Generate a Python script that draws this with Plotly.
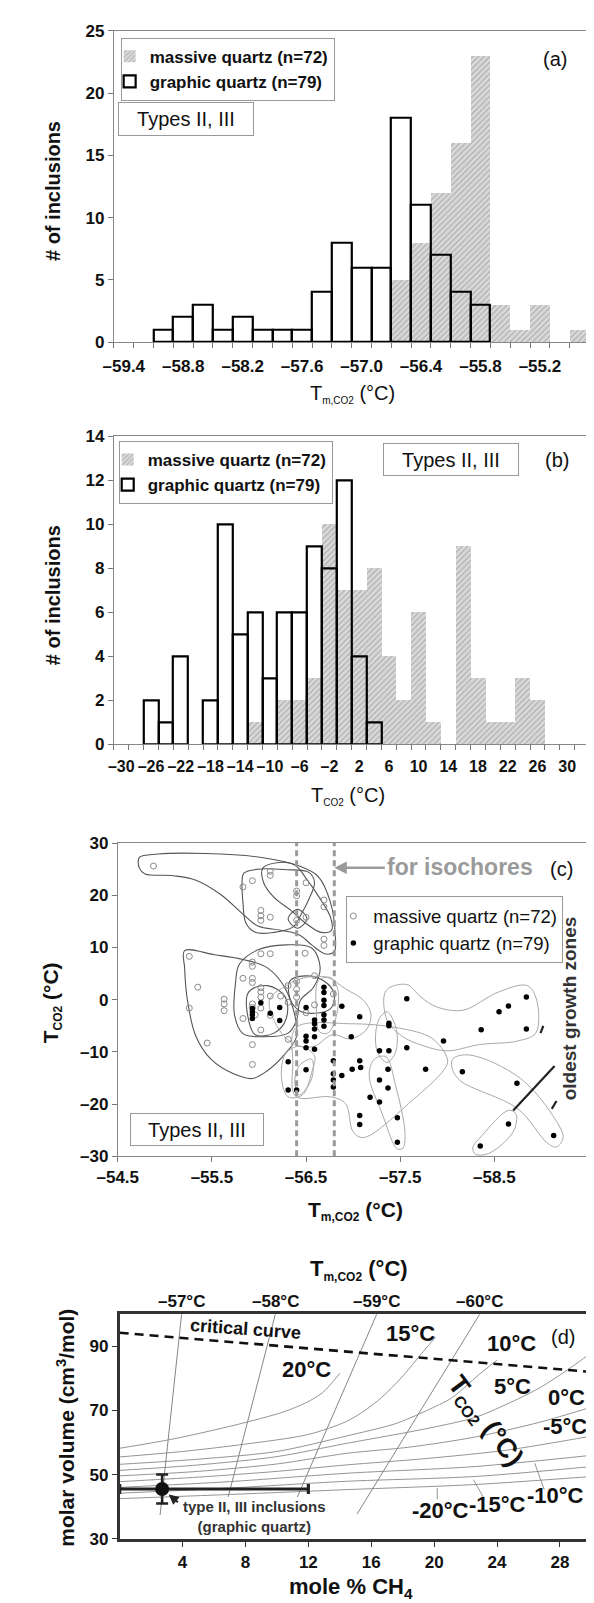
import plotly.graph_objects as go

W, H = 594, 1603
FONT = "Liberation Sans, Arial, sans-serif"

def P(px):  # x pixel -> paper
    return px / W

def Q(py):  # y pixel -> paper
    return 1 - py / H

def dash(v, nd=1):
    s = f"{abs(v):.{nd}f}"
    return ("\u2013" + s) if v < 0 else s

# ---------------- data: panel (a) ----------------
cats_a = [-59.4, -59.2, -59.0, -58.8, -58.6, -58.4, -58.2, -58.0, -57.8, -57.6, -57.4, -57.2,
          -57.0, -56.8, -56.6, -56.4, -56.2, -56.0, -55.8, -55.6, -55.4, -55.2, -55.0, -54.8]
massive_a = [0, 0, 0, 0, 0, 0, 0, 0, 0, 0, 0, 0, 0, 0, 5, 8, 12, 16, 23, 3, 1, 3, 0, 1]
graphic_a = [0, 0, 1, 2, 3, 1, 2, 1, 1, 1, 4, 8, 6, 6, 18, 11, 7, 4, 3, 0, 0, 0, 0, 0]
ticks_a = [-59.4, -58.8, -58.2, -57.6, -57.0, -56.4, -55.8, -55.2]

# ---------------- data: panel (b) ----------------
cats_b = [-30, -28, -26, -24, -22, -20, -18, -16, -14, -12, -10, -8, -6, -4, -2, 0,
          2, 4, 6, 8, 10, 12, 14, 16, 18, 20, 22, 24, 26, 28, 30, 32]
massive_b = [0, 0, 0, 0, 0, 0, 0, 0, 0, 1, 0, 2, 2, 3, 10, 7, 7, 8, 4, 2, 6, 1, 0, 9, 3, 1, 1, 3, 2, 0, 0, 0]
graphic_b = [0, 0, 2, 1, 4, 0, 2, 10, 5, 6, 3, 6, 6, 9, 8, 12, 4, 1, 0, 0, 0, 0, 0, 0, 0, 0, 0, 0, 0, 0, 0, 0]
ticks_b = [-30, -26, -22, -18, -14, -10, -6, -2, 2, 6, 10, 14, 18, 22, 26, 30]

# ---------------- data: panel (c) ----------------
massive_c_x = [-54.88, -55.93, -55.83, -56.12, -56.12, -56.02, -56.02, -56.02, -56.12, -56.40,
               -56.40, -56.50, -56.40, -56.50, -56.69, -56.69, -56.69, -56.69, -55.26, -55.35,
               -55.26, -55.63, -55.63, -55.63, -55.45, -55.93, -55.93, -55.93, -55.93, -56.02,
               -56.12, -55.83, -55.93, -55.93, -56.02, -56.02, -56.02, -56.12, -56.49, -56.31,
               -56.23, -55.83, -56.31, -56.59, -56.79, -55.93, -56.02, -56.40, -56.40, -56.50,
               -56.12, -55.96, -56.59, -56.02, -55.93, -56.40, -56.31]
massive_c_y = [25.6, 22.8, 21.6, 24.6, 23.8, 17.1, 16.1, 15.2, 15.8, 19.9,
               20.8, 22.4, 15.2, 15.8, 19.1, 17.8, 11.6, 10.4, 8.3, 2.4,
               -1.6, 0.1, -0.8, -2.1, -8.3, -8.6, -12.4, 7.2, 6.4, 8.8,
               8.8, 4.1, 4.1, 3.3, 2.3, 0.5, -1.6, 0.7, 8.9, 2.7,
               0.7, -3.6, -7.6, 4.6, 1.1, -0.8, -5.8, 3.5, 0.5, -2.5,
               -3.0, -2.9, -1.0, 1.5, -1.5, 2.0, -0.5]
graphic_c_x = [-55.93, -55.93, -55.93, -55.93, -56.02, -56.12, -56.22, -56.22, -56.50, -56.50,
               -56.50, -56.50, -56.59, -56.59, -56.59, -56.59, -56.59, -56.69, -56.69, -56.69,
               -56.69, -56.69, -56.69, -56.69, -56.31, -56.50, -56.31, -56.40, -56.79, -56.79,
               -56.79, -56.79, -56.88, -56.98, -56.88, -57.07, -57.57, -57.38, -57.38, -57.28,
               -57.38, -57.57, -57.07, -56.99, -57.08, -57.37, -57.77, -57.28, -57.37, -57.18,
               -57.28, -57.07, -57.07, -57.47, -57.47, -57.96, -58.36, -58.55, -58.65, -58.84,
               -58.84, -58.16, -58.74, -58.65, -58.35, -59.13]
graphic_c_y = [-1.7, -2.3, -2.9, -3.6, -0.6, -2.6, -1.5, -4.0, -1.5, -7.0,
               -7.9, -9.2, -3.9, -4.6, -5.6, -7.1, -9.5, 2.4, 1.4, -0.1,
               -1.1, -2.9, -3.9, -5.1, -11.9, -13.4, -17.3, -17.3, -11.7, -14.2,
               -15.4, -16.7, -1.25, -7.1, -14.5, -3.25, 0.2, -4.5, -5.0, -9.8,
               -9.8, -9.2, -11.7, -13.3, -13.0, -13.3, -13.3, -15.4, -16.9, -18.7,
               -19.6, -22.2, -23.9, -22.6, -27.3, -7.9, -5.75, -2.3, -1.2, 0.5,
               -5.6, -13.8, -16.0, -23.8, -28.0, -26.0]

# growth-zone outlines (hand-drawn envelopes in the original)
hulls_massive = [
    [(-54.73, 27.25), (-54.93, 27.9), (-55.43, 28.0), (-56.03, 27.25), (-56.43, 25.6), (-56.63, 23.6),
     (-56.76, 18.6), (-56.81, 12.4), (-56.80, 9.25), (-56.71, 8.75), (-56.56, 10.5), (-56.43, 12.4),
     (-56.23, 13.3), (-55.99, 14.1), (-55.83, 16.4), (-55.59, 20.2), (-55.33, 22.9), (-55.09, 23.75),
     (-54.79, 24.1), (-54.73, 25.2)],
    [(-55.84, 24.25), (-55.99, 25.0), (-56.29, 24.9), (-56.53, 24.4), (-56.59, 22.4), (-56.53, 19.25),
     (-56.44, 16.1), (-56.36, 13.9), (-56.16, 12.9), (-55.96, 12.9), (-55.86, 14.75), (-55.83, 18.6),
     (-55.82, 22.4)],
    [(-56.04, 25.2), (-56.19, 26.25), (-56.38, 25.8), (-56.51, 23.0), (-56.64, 19.6), (-56.76, 15.8),
     (-56.77, 13.3), (-56.66, 12.9), (-56.49, 14.75), (-56.34, 17.1), (-56.16, 19.6), (-56.05, 22.4)],
    [(-56.31, 15.5), (-56.41, 17.3), (-56.51, 15.5), (-56.41, 13.7)],
    [(-55.21, 9.4), (-55.53, 8.6), (-55.83, 7.7), (-56.09, 6.1), (-56.29, 1.75), (-56.40, -6.9),
     (-56.29, -10.1), (-56.09, -13.6), (-55.93, -15.1), (-55.73, -14.2), (-55.49, -11.4),
     (-55.33, -7.0), (-55.24, -0.1), (-55.21, 6.1)],
    [(-55.79, 6.75), (-55.99, 9.56), (-56.29, 10.5), (-56.56, 9.9), (-56.65, 6.1), (-56.58, 2.4),
     (-56.44, -0.1), (-56.40, -3.9), (-56.31, -6.4), (-56.06, -7.1), (-55.83, -6.5), (-55.74, -2.9),
     (-55.75, 3.0)],
    [(-55.89, 1.44), (-56.09, 2.7), (-56.28, 0.5), (-56.29, -3.6), (-56.16, -6.4), (-55.96, -6.7),
     (-55.89, -3.9)],
    [(-56.33, 3.6), (-56.49, 4.56), (-56.69, 3.6), (-56.80, 1.1), (-56.76, -1.7), (-56.59, -2.6),
     (-56.43, -2.1), (-56.33, 0.2)],
]
hulls_graphic = [
    [(-56.63, 3.6), (-56.76, 4.25), (-56.84, 1.75), (-56.81, -3.9), (-56.73, -6.4), (-56.64, -6.1),
     (-56.61, -2.0)],
    [(-56.11, -0.1), (-56.29, 2.7), (-56.49, 4.25), (-56.73, 4.25), (-56.92, 2.06), (-57.11, -0.1),
     (-57.19, -2.9), (-57.14, -5.75), (-56.97, -7.5), (-56.78, -6.7), (-56.59, -8.9), (-56.43, -8.9),
     (-56.24, -6.4)],
    [(-57.35, 1.75), (-57.57, 2.9), (-57.72, 0.5), (-57.89, -1.4), (-58.17, -2.0), (-58.54, 1.44),
     (-58.85, 2.7), (-58.95, -0.1), (-58.94, -6.4), (-58.75, -7.9), (-58.34, -8.6), (-58.00, -9.8),
     (-57.76, -8.9), (-57.52, -7.0), (-57.36, -3.9)],
    [(-57.28, -3.56), (-57.36, -2.3), (-57.46, -5.75), (-57.45, -10.1), (-57.36, -12.0), (-57.26, -10.1),
     (-57.24, -6.4)],
    [(-56.39, -5.4), (-56.97, -4.6), (-57.48, -5.4), (-57.83, -7.3), (-57.98, -10.4), (-58.00, -12.3),
     (-57.59, -19.9), (-57.11, -26.4), (-57.00, -25.3), (-56.92, -19.9), (-56.76, -18.6), (-56.39, -18.5),
     (-56.36, -12.0)],
    [(-57.23, -11.3), (-57.35, -10.96), (-57.45, -16.4), (-57.55, -25.3), (-57.53, -28.4), (-57.47, -28.6),
     (-57.31, -21.9), (-57.17, -14.4)],
    [(-58.06, -11.3), (-58.24, -10.6), (-58.78, -15.1), (-59.16, -23.3), (-59.23, -26.4), (-59.16, -28.2),
     (-59.06, -27.4), (-58.75, -20.9), (-58.13, -15.4), (-58.05, -13.0)],
    [(-58.27, -28.4), (-58.37, -26.0), (-58.65, -21.2), (-58.73, -21.9), (-58.70, -25.3), (-58.44, -29.45),
     (-58.30, -29.6)],
    [(-56.28, -10.4), (-56.43, -8.9), (-56.59, -10.75), (-56.56, -13.9), (-56.46, -18.25), (-56.31, -18.6),
     (-56.24, -15.1)],
    [(-56.43, -12.6), (-56.56, -11.4), (-56.56, -15.1), (-56.43, -18.25), (-56.38, -15.75)],
]
isochore_tm = [-56.4, -56.8]
zone_pointers = [[(-58.99, -6.4), (-59.02, -5.0)],
                 [(-58.70, -21.2), (-59.14, -12.7)],
                 [(-59.11, -20.9), (-59.16, -19.4)]]

# ---------------- data: panel (d) ----------------
critical_x = [0, 30]
critical_y = [94.2, 82.0]
tm_lines = {  # T_m,CO2 isopleths: (x_bottom, y_bottom, x_top, y_top)
    "\u201357\u00b0C": (2.57, 37.4, 3.94, 100),
    "\u201358\u00b0C": (6.9, 43.0, 9.9, 100),
    "\u201359\u00b0C": (11.3, 43.0, 16.35, 100),
    "\u201360\u00b0C": (15.1, 37.7, 22.9, 100),
}
iso_20 = ([0, 3.3, 7.4, 10.4, 11.9, 12.9, 13.5, 14.0], [58.2, 61.0, 65.5, 69.5, 72.5, 75.5, 78.6, 81.6])
iso_15 = ([0, 4, 8, 12, 14.4, 15.6, 16.65, 17.9, 19.3, 20.1], [55.5, 57.2, 59.5, 62.5, 66.5, 70.0, 74.0, 80.1, 88.3, 92.9])
iso_10 = ([0, 5, 10, 14.4, 17.5, 19.5, 21.15, 22.6, 24.0], [53.2, 54.8, 57.2, 62.0, 65.8, 69.9, 74.0, 80.1, 85.7])
iso_5 = ([0, 5, 10, 14.4, 19.5, 22.6, 24.6, 26.7, 28.5, 30], [51.3, 53.0, 55.6, 59.7, 64.3, 67.8, 71.9, 77.0, 82.7, 88.0])
iso_0 = ([0, 5, 10, 14.4, 18.5, 22.6, 26.7, 30], [49.6, 51.0, 53.3, 56.6, 58.6, 61.7, 66.3, 71.0])
iso_m5 = ([0, 5, 10, 14.4, 19.5, 24.6, 30], [47.8, 49.2, 51.0, 53.0, 55.0, 57.6, 62.0])
iso_m10 = ([0, 7, 14.4, 22.6, 30], [46.0, 47.8, 50.4, 52.5, 56.0])
iso_m15 = ([0, 7, 14.4, 22.6, 30], [44.2, 45.8, 47.9, 49.4, 52.5])
iso_m20 = ([0, 7, 14.4, 22.6, 30], [42.5, 43.8, 45.3, 46.9, 49.4])
iso_labels = [("20\u00b0C", 11.9, 82.9), ("15\u00b0C", 18.5, 94.0), ("10\u00b0C", 24.9, 90.8),
              ("5\u00b0C", 25.0, 77.3), ("0\u00b0C", 28.4, 74.0), ("-5\u00b0C", 28.3, 65.0),
              ("-10\u00b0C", 27.7, 43.4), ("-15\u00b0C", 24.0, 40.8), ("-20\u00b0C", 20.4, 38.8)]
label_pointers = [[(20.2, 45.8), (20.2, 42.3)], [(22.5, 48.4), (23.2, 42.3)], [(26.4, 53.5), (27.0, 45.3)]]
incl_ch4, incl_ch4_minus, incl_ch4_plus = 2.7, 2.7, 9.3
incl_vm, incl_vm_err = 45.5, 4.5

# ---------------- figure ----------------
fig = go.Figure()

hatch = dict(color="#cfcfcf", line=dict(width=0),
             pattern=dict(shape="/", fgcolor="#8a8a8a", bgcolor="#dadada", size=4, solidity=0.35))
outline = dict(color="rgba(0,0,0,0)", line=dict(color="black", width=2.2))

def nz(v):
    return [a if a else None for a in v]

fig.add_trace(go.Bar(x=cats_a, y=nz(massive_a), width=0.2, marker=hatch, name="massive quartz (n=72)",
                     xaxis="x", yaxis="y", legend="legend"))
fig.add_trace(go.Bar(x=cats_a, y=nz(graphic_a), width=0.2, marker=outline, name="graphic quartz (n=79)",
                     xaxis="x", yaxis="y", legend="legend"))
fig.add_trace(go.Bar(x=cats_b, y=nz(massive_b), width=2, marker=hatch, name="massive quartz (n=72)",
                     xaxis="x2", yaxis="y2", legend="legend2"))
fig.add_trace(go.Bar(x=cats_b, y=nz(graphic_b), width=2, marker=outline, name="graphic quartz (n=79)",
                     xaxis="x2", yaxis="y2", legend="legend2"))

# panel c outlines
for h in hulls_massive:
    xs = [p[0] for p in h] + [h[0][0]]
    ys = [p[1] for p in h] + [h[0][1]]
    fig.add_trace(go.Scatter(x=xs, y=ys, mode="lines", line=dict(color="#555", width=1.1, shape="spline", smoothing=1.0),
                             showlegend=False, hoverinfo="skip", xaxis="x3", yaxis="y3"))
for h in hulls_graphic:
    xs = [p[0] for p in h] + [h[0][0]]
    ys = [p[1] for p in h] + [h[0][1]]
    fig.add_trace(go.Scatter(x=xs, y=ys, mode="lines", line=dict(color="#a8a8a8", width=1.0, shape="spline", smoothing=1.0),
                             showlegend=False, hoverinfo="skip", xaxis="x3", yaxis="y3"))
for seg in zone_pointers:
    fig.add_trace(go.Scatter(x=[p[0] for p in seg], y=[p[1] for p in seg], mode="lines",
                             line=dict(color="#222", width=2.2), showlegend=False, hoverinfo="skip",
                             xaxis="x3", yaxis="y3"))
fig.add_trace(go.Scatter(x=massive_c_x, y=massive_c_y, mode="markers", name="massive quartz (n=72)",
                         marker=dict(symbol="circle-open", size=6, color="#8a8a8a", line=dict(width=1)),
                         xaxis="x3", yaxis="y3", legend="legend3"))
fig.add_trace(go.Scatter(x=graphic_c_x, y=graphic_c_y, mode="markers", name="graphic quartz (n=79)",
                         marker=dict(symbol="circle", size=5.5, color="black"),
                         xaxis="x3", yaxis="y3", legend="legend3"))

# panel d
for key, (x0, y0, x1, y1) in tm_lines.items():
    fig.add_trace(go.Scatter(x=[x0, x1], y=[y0, y1], mode="lines", line=dict(color="#777", width=0.9),
                             showlegend=False, hoverinfo="skip", xaxis="x4", yaxis="y4"))
for iso in [iso_20, iso_15, iso_10, iso_5, iso_0, iso_m5, iso_m10, iso_m15, iso_m20]:
    fig.add_trace(go.Scatter(x=iso[0], y=iso[1], mode="lines",
                             line=dict(color="#888", width=0.9, shape="spline", smoothing=0.8),
                             showlegend=False, hoverinfo="skip", xaxis="x4", yaxis="y4"))
for seg in label_pointers:
    fig.add_trace(go.Scatter(x=[p[0] for p in seg], y=[p[1] for p in seg], mode="lines",
                             line=dict(color="#888", width=0.9), showlegend=False, hoverinfo="skip",
                             xaxis="x4", yaxis="y4"))
fig.add_trace(go.Scatter(x=critical_x, y=critical_y, mode="lines",
                         line=dict(color="#111", width=2.6, dash="9px,6px"),
                         showlegend=False, hoverinfo="skip", xaxis="x4", yaxis="y4"))
fig.add_trace(go.Scatter(x=[incl_ch4], y=[incl_vm], mode="markers",
                         marker=dict(size=14, color="#111"),
                         error_x=dict(type="data", symmetric=False, array=[incl_ch4_plus], arrayminus=[incl_ch4_minus],
                                      color="#222", thickness=3.2, width=5),
                         error_y=dict(type="data", array=[incl_vm_err], color="#222", thickness=2.6, width=6),
                         showlegend=False, hoverinfo="skip", xaxis="x4", yaxis="y4"))

tickfont = dict(family=FONT, size=17, color="#111", weight="bold")
tickfont_b = dict(family=FONT, size=16, color="#111", weight="bold")
ax_common = dict(showgrid=False, zeroline=False, showline=True, linecolor="#888", linewidth=1, mirror=True)

legfont = dict(family=FONT, size=17, weight="bold", color="#111")
fig.update_layout(
    width=W, height=H, margin=dict(l=0, r=0, t=0, b=0),
    paper_bgcolor="white", plot_bgcolor="white",
    barmode="overlay", bargap=0,
    font=dict(family=FONT, color="#111"),
    xaxis=dict(domain=[P(88), P(581)], anchor="y", range=[-59.5, -54.7], **ax_common,
               tickmode="array", tickvals=ticks_a, ticktext=[dash(v) for v in ticks_a], ticks="",
               tickangle=0, tickfont=tickfont, ticklabelstandoff=8,
               minor=dict(tickmode="array", tickvals=[c - 0.1 for c in cats_a] + [-54.7], ticks="outside",
                          ticklen=5, tickcolor="#777")),
    yaxis=dict(domain=[Q(329), Q(14)], anchor="x", range=[0, 25], **ax_common,
               tickvals=[0, 5, 10, 15, 20, 25], ticks="outside", ticklen=5, tickcolor="#777", tickfont=tickfont),
    xaxis2=dict(domain=[P(88), P(581)], anchor="y2", range=[-31, 33], **ax_common,
                tickmode="array", tickvals=ticks_b, ticktext=[dash(v, 0) for v in ticks_b], ticks="",
                tickangle=0, tickfont=tickfont_b, ticklabelstandoff=8,
                minor=dict(tickmode="array", tickvals=[c - 1 for c in cats_b] + [33], ticks="outside",
                           ticklen=5, tickcolor="#777")),
    yaxis2=dict(domain=[Q(736), Q(424.5)], anchor="x2", range=[0, 14], **ax_common,
                tickvals=[0, 2, 4, 6, 8, 10, 12, 14], ticks="outside", ticklen=5, tickcolor="#777", tickfont=tickfont),
    xaxis3=dict(domain=[P(92), P(580)], anchor="y3", range=[-54.5, -59.5], **ax_common,
                tickvals=[-54.5, -55.5, -56.5, -57.5, -58.5, -59.5],
                ticktext=[dash(v) for v in [-54.5, -55.5, -56.5, -57.5, -58.5, -59.5]],
                tickangle=0, ticks="outside", ticklen=5, tickcolor="#777", tickfont=tickfont),
    yaxis3=dict(domain=[Q(1153), Q(836)], anchor="x3", range=[-30, 30], **ax_common,
                tickvals=[-30, -20, -10, 0, 10, 20, 30], ticktext=[dash(v, 0) for v in [-30, -20, -10, 0, 10, 20, 30]],
                ticks="outside", ticklen=5, tickcolor="#777", tickfont=tickfont),
    xaxis4=dict(domain=[P(94), P(583)], anchor="y4", range=[0, 30], showgrid=False, zeroline=False,
                showline=True, linecolor="#333", linewidth=2.5, mirror=True, tickangle=0,
                tickvals=[4, 8, 12, 16, 20, 24, 28], ticks="outside", ticklen=6, tickcolor="#333", tickfont=tickfont),
    yaxis4=dict(domain=[Q(1540), Q(1312.7)], anchor="x4", range=[30, 100], showgrid=False, zeroline=False,
                showline=True, linecolor="#333", linewidth=2.5, mirror=True,
                tickvals=[30, 50, 70, 90], ticks="outside", ticklen=5, tickcolor="#333", tickfont=tickfont),
    legend=dict(x=P(95), y=Q(21), xanchor="left", yanchor="top", bgcolor="white", bordercolor="#999",
                borderwidth=1, font=legfont, tracegroupgap=0, itemwidth=30, indentation=-12),
    legend2=dict(x=P(93), y=Q(429), xanchor="left", yanchor="top", bgcolor="white", bordercolor="#999",
                 borderwidth=1, font=legfont, tracegroupgap=0, itemwidth=30, indentation=-12),
    legend3=dict(x=P(329), y=Q(890), xanchor="left", yanchor="top", bgcolor="white", bordercolor="#999",
                 borderwidth=1, font=dict(family=FONT, size=18.5, color="#111"),
                 tracegroupgap=0, itemwidth=30, indentation=-14),
)

# vertical isochore guide lines in (c)
for tm in isochore_tm:
    fig.add_shape(type="line", xref="x3", yref="y3 domain", x0=tm, x1=tm, y0=0, y1=1,
                  line=dict(color="#9a9a9a", width=3, dash="6px,4px"))

ann = []
def A(text, x, y, size, bold=False, xref="paper", yref="paper", color="#111", angle=0, **kw):
    d = dict(text=text, x=x, y=y, xref=xref, yref=yref, showarrow=False, textangle=angle,
             xanchor="center", yanchor="middle",
             font=dict(family=FONT, size=size, color=color, weight="bold" if bold else "normal"))
    d.update(kw)
    ann.append(d)

tm_title = "T<sub><span style='font-size:10px'>m,CO2</span></sub> (\u00b0C)"
tm_title_b = "T<sub><span style='font-size:12px'>m,CO2</span></sub> (\u00b0C)"
tco2_title = "T<sub><span style='font-size:10px'>CO2</span></sub> (\u00b0C)"
tco2_title_b = "T<sub><span style='font-size:12px'>CO2</span></sub> (\u00b0C)"

# panel a
A("(a)", P(545), Q(43), 20)
A("Types II, III", P(163), Q(103), 20, bordercolor="#999", borderwidth=1, borderpad=3, width=128, height=26)
A("# of inclusions", P(25), Q(176), 20, bold=True, angle=-90)
A(tm_title, P(335), Q(382), 20)
# panel b
A("(b)", P(547), Q(448), 20)
A("Types II, III", P(437.5), Q(447.5), 20, bordercolor="#999", borderwidth=1, borderpad=3, width=128, height=25)
A("# of inclusions", P(25), Q(585), 20, bold=True, angle=-90)
A(tco2_title, P(331), Q(788), 20)
# panel c
A("(c)", P(552), Q(862), 20)
A("for isochores", P(447), Q(860), 23, bold=True, color="#9a9a9a")
ann.append(dict(text="", x=-56.8, y=Q(861), xref="x3", yref="paper", ax=52, ay=0, showarrow=True,
                arrowhead=2, arrowsize=1, arrowwidth=2.5, arrowcolor="#9a9a9a"))
A("oldest growth zones", P(560), Q(1003), 19, bold=True, color="#333", angle=-90)
A("Types II, III", P(174.5), Q(1126), 20, bordercolor="#999", borderwidth=1, borderpad=3, width=126, height=25)
A(tco2_title_b, P(24), Q(998), 21, bold=True, angle=-90)
A(tm_title_b, P(338), Q(1208), 21, bold=True)
# panel d
A(tm_title_b, P(342), Q(1268), 22, bold=True)
for key, (x0, y0, x1, y1) in tm_lines.items():
    A(key, x1, Q(1300), 17, bold=True, xref="x4")
A("(d)", 28.2, 93.0, 20, xref="x4", yref="y4")
A("critical curve", 8.0, 95.3, 18, bold=True, xref="x4", yref="y4", angle=4)
for txt, lx, ly in iso_labels:
    A(txt, lx, ly, 22, bold=True, xref="x4", yref="y4")
A("T<sub><span style='font-size:16px'>CO2</span></sub> (\u00b0C)", 23.2, 66.5, 27, bold=True,
  xref="x4", yref="y4", angle=53)
A("type II, III inclusions<br>(graphic quartz)", 8.6, 36.9, 15, bold=True, color="#333",
  xref="x4", yref="y4")
ann.append(dict(text="", x=3.12, y=43.8, xref="x4", yref="y4", ax=3.8, ay=41.0, axref="x4", ayref="y4",
                showarrow=True, arrowhead=2, arrowsize=1, arrowwidth=2, arrowcolor="#222"))
A("molar volume (cm<sup>3</sup>/mol)", P(38), Q(1428), 21, bold=True, angle=-90)
A("mole % CH<sub>4</sub>", P(334), Q(1590), 22, bold=True)

fig.update_layout(annotations=ann)
fig.write_html("out.html")
